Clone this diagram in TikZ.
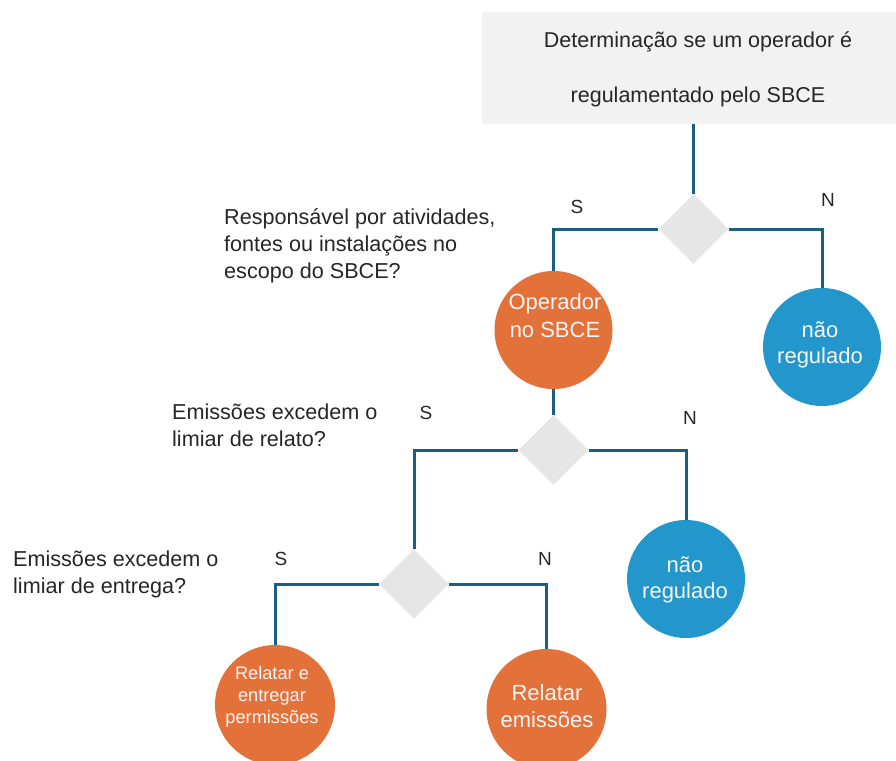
\documentclass[tikz,border=0pt]{standalone}
\usepackage{fontspec}
\setmainfont{Liberation Sans}
\usetikzlibrary{shapes.geometric}
\definecolor{lineblue}{HTML}{1A5E82}
\definecolor{orangefill}{HTML}{E3713A}
\definecolor{bluefill}{HTML}{2397CB}
\definecolor{diagray}{HTML}{E6E6E6}
\definecolor{boxgray}{HTML}{F2F2F2}
\definecolor{txt}{HTML}{262626}
\definecolor{wtxt}{HTML}{F5F5F5}
\tikzset{
  conn/.style={draw=lineblue, line width=3pt},
  decision/.style={diamond, fill=diagray, minimum width=70pt, minimum height=70pt, inner sep=0pt},
  orangecirc/.style={circle, fill=orangefill, minimum size=118pt, inner sep=0pt},
  bluecirc/.style={circle, fill=bluefill, minimum size=118pt, inner sep=0pt},
  circtext/.style={text=wtxt, align=center, inner sep=0pt, font=\fontsize{22}{27}\selectfont},
  question/.style={text=txt, align=left, anchor=base west, inner sep=0pt, font=\fontsize{21.6}{27}\selectfont},
  yn/.style={text=txt, inner sep=0pt, font=\fontsize{19}{22}\selectfont},
}
\begin{document}
\begin{tikzpicture}[x=1pt, y=-1pt]
\useasboundingbox (0,0) rectangle (896,760);
% top box
\node[fill=boxgray, minimum width=430pt, minimum height=112pt, inner sep=0pt, anchor=north west] (top) at (482,12) {};
\node[text=txt, align=center, inner sep=0pt, font=\fontsize{21.5}{55}\selectfont] (toptext) at (698,69)
  {Determinação se um operador é\\regulamentado pelo SBCE};
% decisions
\node[decision] (d1) at (693.5,229) {};
\node[decision] (d2) at (553.5,450) {};
\node[decision] (d3) at (414,584) {};
% circles
\node[orangecirc] (c1) at (553.5,330) {};
\node[circtext, font=\fontsize{22}{28}\selectfont] (c1t) at (555,316) {Operador\\no SBCE};
\node[bluecirc] (n1) at (822,347) {};
\node[circtext, font=\fontsize{22}{26}\selectfont] (n1t) at (820,345) {não\\regulado};
\node[bluecirc] (n2) at (686,579) {};
\node[circtext, font=\fontsize{22}{26}\selectfont] (n2t) at (685,580) {não\\regulado};
\node[orangecirc, minimum size=120pt] (r1) at (275,705) {};
\node[circtext, font=\fontsize{18.2}{22}\selectfont] (r1t) at (272,697) {Relatar e\\entregar\\permissões};
\node[orangecirc, minimum size=120pt] (r2) at (546.5,709) {};
\node[circtext, font=\fontsize{22}{27}\selectfont] (r2t) at (547,706) {Relatar\\emissões};
% connectors
\draw[conn] (top.south -| d1.north) -- (d1.north);
\draw[conn] (d1.west) -| (c1.north);
\draw[conn] (d1.east) -| (n1.north);
\draw[conn] (c1.south) -- (d2.north);
\draw[conn] (d2.west) -| (d3.north);
\draw[conn] (d2.east) -| (n2.north);
\draw[conn] (d3.west) -| (r1.north);
\draw[conn] (d3.east) -| (r2.north);
% questions (base = baseline of last line)
\node[question] (q1) at (224,278) {Responsável por atividades,\\fontes ou instalações no\\escopo do SBCE?};
\node[question] (q2) at (172,446) {Emissões excedem o\\limiar de relato?};
\node[question] (q3) at (13,593) {Emissões excedem o\\limiar de entrega?};
% S / N labels
\node[yn] (s1) at (577,207) {S};
\node[yn] (n1l) at (828,200) {N};
\node[yn] (s2) at (426,413) {S};
\node[yn] (n2l) at (690,418) {N};
\node[yn] (s3) at (281,559) {S};
\node[yn] (n3l) at (545,559) {N};
\end{tikzpicture}
\end{document}
